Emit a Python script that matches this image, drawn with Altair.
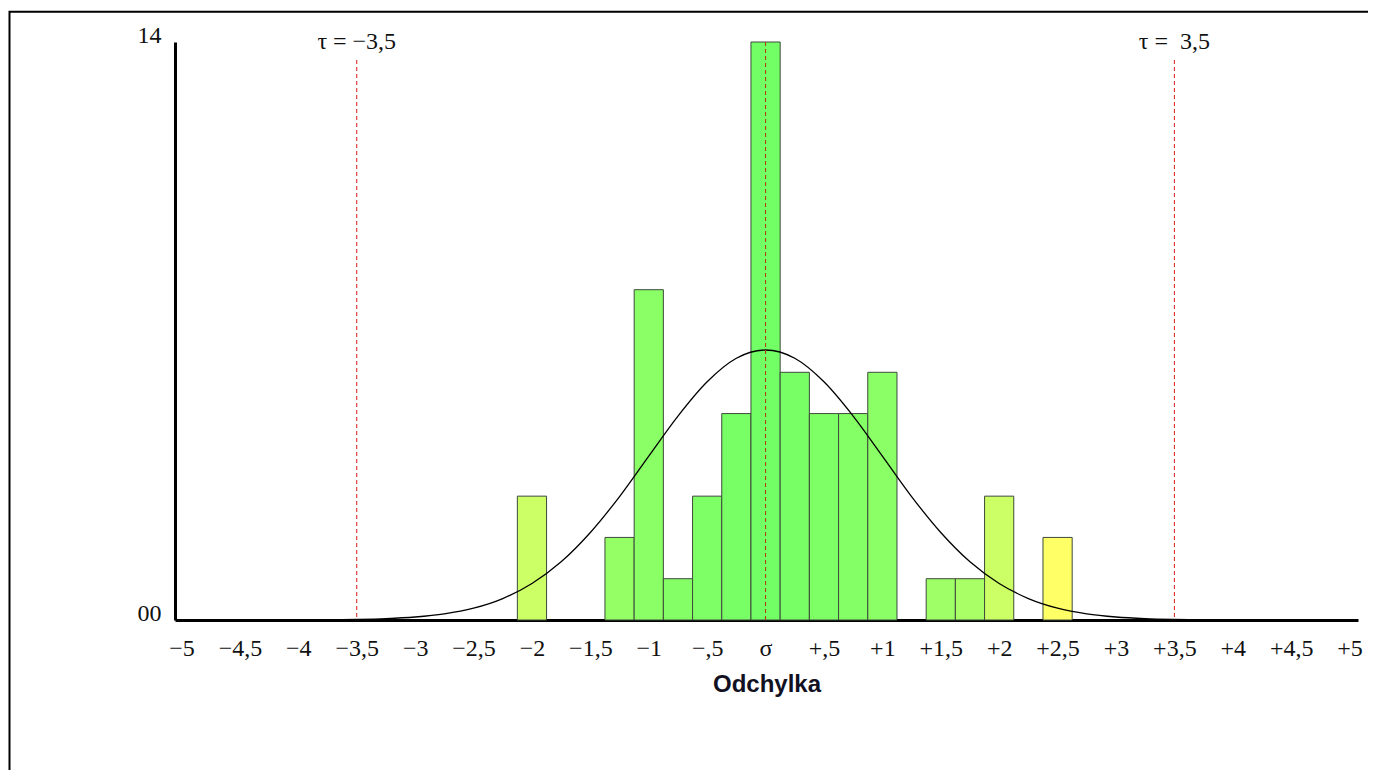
import altair as alt
import pandas as pd

# ---- data ----
bin_centers = [-2.0, -1.25, -1.0, -0.75, -0.5, -0.25, 0.0, 0.25, 0.5, 0.75, 1.0, 1.5, 1.75, 2.0, 2.5]
counts = [3, 2, 8, 1, 3, 5, 14, 6, 5, 5, 6, 1, 1, 3, 2]

curve_x = [-5.0, -4.0, -3.5, -3.25, -3.0, -2.75, -2.5, -2.25, -2.0, -1.75, -1.5, -1.25, -1.0,
           -0.75, -0.5, -0.25, 0.0, 0.25, 0.5, 0.75, 1.0, 1.25, 1.5, 1.75, 2.0, 2.25, 2.5,
           2.75, 3.0, 3.25, 3.5, 4.0, 5.0]
curve_y = [0.0, 0.0, 0.014, 0.033, 0.073, 0.149, 0.287, 0.52, 0.885, 1.41, 2.12, 2.99, 3.97,
           4.94, 5.77, 6.34, 6.54, 6.34, 5.77, 4.94, 3.97, 2.99, 2.12, 1.41, 0.885, 0.52, 0.287,
           0.149, 0.073, 0.033, 0.014, 0.0, 0.0]

tick_values = [-5, -4.5, -4, -3.5, -3, -2.5, -2, -1.5, -1, -0.5, 0, 0.5, 1, 1.5, 2, 2.5, 3, 3.5, 4, 4.5, 5]
tick_labels = ["\u22125", "\u22124,5", "\u22124", "\u22123,5", "\u22123", "\u22122,5", "\u22122",
               "\u22121,5", "\u22121", "\u2212,5", "\u03c3", "+,5", "+1", "+1,5", "+2", "+2,5",
               "+3", "+3,5", "+4", "+4,5", "+5"]

tau_values = [-3.5, 3.5]
tau_labels = ["\u03c4 = \u22123,5", "\u03c4 =\u00a0 3,5"]
mean_value = [0.0]

y_ticks = [0, 14]
y_labels = ["00", "14"]

# ---- tables ----
bars_df = pd.DataFrame({"c": bin_centers, "n": counts})
curve_df = pd.DataFrame({"x": curve_x, "y": curve_y})
tau_df = pd.DataFrame({"t": tau_values, "label": tau_labels})
mean_df = pd.DataFrame({"m": mean_value})

W, H = 1183, 578
HALF = 0.125

x_scale = alt.Scale(domain=[-5.056, 5.072], nice=False, zero=False)
y_scale = alt.Scale(domain=[0, 14], nice=False, zero=True)

x_label_expr = "[" + ",".join("'" + s + "'" for s in tick_labels) + "][round((datum.value + 5) * 2)]"
y_label_expr = "datum.value == 0 ? '" + y_labels[0] + "' : '" + y_labels[1] + "'"

x_axis = alt.Axis(
    values=tick_values, labelExpr=x_label_expr, ticks=False, tickSize=0, grid=False,
    domainColor="black", domainWidth=3, labelFont="Liberation Serif", labelFontSize=24,
    labelColor="#111111", labelBaseline="alphabetic", labelPadding=35, labelAngle=0,
    labelOverlap=False, labelFlush=False,
    title="Odchylka", titleFont="Liberation Sans", titleFontWeight="bold", titleFontSize=24,
    titleColor="#111122", titleBaseline="alphabetic", titleY=71,
)
y_axis = alt.Axis(
    values=y_ticks, labelExpr=y_label_expr, ticks=False, tickSize=0, grid=False,
    domainColor="black", domainWidth=3, labelFont="Liberation Serif", labelFontSize=24,
    labelColor="#111111", labelBaseline="alphabetic", labelPadding=14, title=None,
)

X = lambda f: alt.X(f, scale=x_scale, axis=x_axis)
Y = lambda f: alt.Y(f, scale=y_scale, axis=y_axis)

bars = alt.Chart(bars_df).transform_calculate(
    x0=f"datum.c - {HALF}", x1=f"datum.c + {HALF}", d="abs(datum.c)"
).mark_rect(stroke="#3d4a3a", strokeWidth=1).encode(
    x=X("x0:Q"),
    x2="x1:Q",
    y=Y("n:Q"),
    y2=alt.datum(0),
    color=alt.Color("d:Q", legend=None,
                    scale=alt.Scale(domain=[0, 1, 1.75, 2, 2.5],
                                    range=["#72ff66", "#8aff66", "#a8ff66", "#ccff66", "#ffff66"])),
)

frame = alt.Chart(alt.Data(values=[{}])).mark_rect(
    fillOpacity=0, stroke="black", strokeWidth=2
).encode(
    x=alt.value(-165.5), x2=alt.value(1240), y=alt.value(-30.2), y2=alt.value(770)
)

curve = alt.Chart(curve_df).mark_line(color="black", strokeWidth=1.3, interpolate="monotone").encode(
    x=X("x:Q"),
    y=Y("y:Q"),
)

tau_rules = alt.Chart(tau_df).mark_rule(color="#e01818", strokeWidth=1, strokeDash=[4, 3]).encode(
    x=X("t:Q"),
    y=alt.value(18), y2=alt.value(H),
)

mean_rule = alt.Chart(mean_df).mark_rule(color="#b8300c", strokeWidth=1, strokeDash=[4, 3]).encode(
    x=X("m:Q"),
    y=alt.value(0), y2=alt.value(H),
)

tau_text = alt.Chart(tau_df).mark_text(
    font="Liberation Serif", fontSize=24, baseline="alphabetic", align="center", color="#111111"
).encode(
    x=X("t:Q"),
    y=alt.value(7),
    text="label:N",
)

chart = alt.layer(bars, frame, curve, tau_rules, mean_rule, tau_text).properties(
    width=W, height=H,
    autosize=alt.AutoSizeParams(type="none"),
    padding={"left": 167, "top": 34, "right": 10, "bottom": 150},
    background="white",
).configure_view(stroke=None)

chart.save("out.html", embed_options={"renderer": "svg", "actions": False})
